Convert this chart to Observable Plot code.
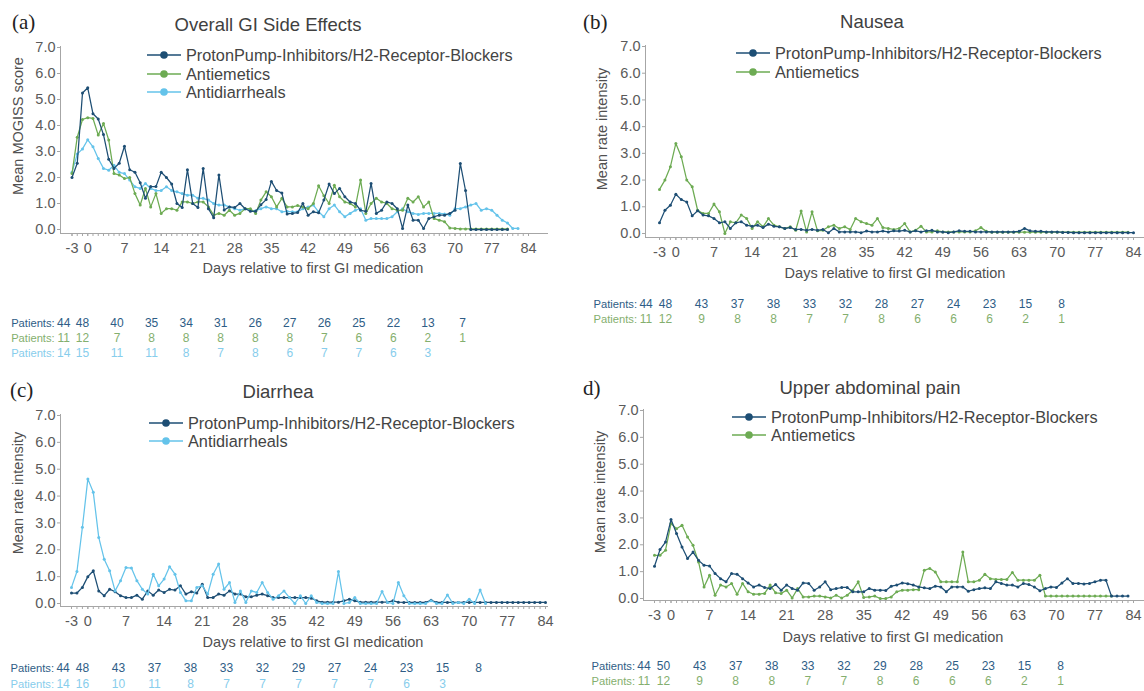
<!DOCTYPE html>
<html><head><meta charset="utf-8">
<script src="https://cdn.jsdelivr.net/npm/d3@7"></script>
<script src="https://cdn.jsdelivr.net/npm/@observablehq/plot@0.6"></script>
<style>
body{margin:0;background:#fff;font-family:"Liberation Sans",Arial,sans-serif;}
#root{position:relative;width:1144px;height:691px;overflow:hidden;background:#fff;}
.abs{position:absolute;white-space:nowrap;line-height:1;}
.plt{position:absolute;}
.plt svg{overflow:visible;}
</style></head><body><div id="root"></div>
<script>
// ---------------- DATA ----------------
const FIRST_DAY = -3;
const xTickLabels = [-3, 0, 7, 14, 21, 28, 35, 42, 49, 56, 63, 70, 77, 84];
const yTickValues = [0, 1, 2, 3, 4, 5, 6, 7];
const seriesNames = ["ProtonPump-Inhibitors/H2-Receptor-Blockers", "Antiemetics", "Antidiarrheals"];
const panelTitles = ["Overall GI Side Effects", "Nausea", "Diarrhea", "Upper abdominal pain"];
const panelLetters = ["(a)", "(b)", "(c)", "d)"];
const yTitles = ["Mean MOGISS score", "Mean rate intensity", "Mean rate intensity", "Mean rate intensity"];
const xTitle = "Days relative to first GI medication";
const patientDays = [-3, 0, 7, 14, 21, 28, 35, 42, 49, 56, 63, 70, 77];

// (a) Overall GI side effects, daily values from day -3
const aPPI = [2.0,2.55,5.25,5.45,4.45,4.25,3.65,2.7,2.35,2.55,3.2,2.3,2.2,1.8,1.2,1.65,1.65,2.2,2.0,1.75,1.0,0.85,2.3,1.0,0.85,2.35,0.8,0.45,2.1,0.75,0.87,0.85,1.0,0.8,0.7,0.7,0.95,1.15,1.85,1.5,1.4,0.6,0.62,0.65,1.0,0.55,0.68,0.64,1.13,1.75,1.38,1.58,1.26,1.06,1.0,0.74,0.7,1.77,0.62,0.74,1.06,1.0,0.8,0.04,0.94,0.36,0.36,0.04,0.42,0.49,0.55,0.55,0.62,0.74,2.54,1.5,0.0,0,0,0,0,0,0,0];
const aAE = [2.15,3.55,4.23,4.3,4.27,3.63,4.08,3.44,2.15,2.1,1.96,2.0,1.38,0.94,1.58,0.87,1.38,0.62,0.8,0.8,0.74,1.06,1.06,1.0,1.06,1.06,0.87,0.55,0.62,0.55,0.74,0.55,0.62,0.8,0.8,0.62,1.13,1.45,1.26,0.87,1.2,0.87,0.87,0.92,0.87,0.8,1.0,1.68,1.3,1.0,1.7,1.26,1.06,1.0,0.87,1.9,0.62,1.0,1.2,1.06,1.0,0.8,0.74,0.74,1.2,1.06,1.26,0.87,1.06,0.42,0.36,0.3,0.06,0.04,0.02,0.02,0.02,0.02,0.02,0.02,0.02,0.02,0.02,0.02];
const aAD = [2.2,2.9,3.1,3.45,3.18,2.73,2.35,2.28,2.47,2.2,2.15,1.9,1.64,1.58,1.77,1.58,1.5,1.5,1.64,1.5,1.45,1.38,1.32,1.32,1.2,1.2,1.13,1.0,0.94,0.94,0.87,0.8,0.74,0.8,0.74,0.72,0.8,0.87,0.8,0.8,0.68,0.7,0.68,0.68,0.8,0.87,0.94,0.68,0.49,0.8,0.94,0.68,0.49,0.62,0.74,0.8,0.36,0.42,0.42,0.42,0.42,0.49,0.68,0.8,0.68,0.62,0.58,0.62,0.62,0.62,0.62,0.6,0.55,0.8,0.8,0.87,0.94,1.0,0.74,0.8,0.74,0.55,0.36,0.25,0.04,0.04];
const aPatientsPPI = [44,48,40,35,34,31,26,27,26,25,22,13,7];
const aPatientsAE = [11,12,7,8,8,8,8,8,7,6,6,2,1];
const aPatientsAD = [14,15,11,11,8,7,8,6,7,7,6,3,null];

// (b) Nausea
const bPPI = [0.4,0.87,1.06,1.47,1.27,1.18,0.66,0.85,0.69,0.66,0.56,0.4,0.44,0.19,0.4,0.44,0.31,0.27,0.31,0.22,0.35,0.27,0.25,0.19,0.22,0.15,0.15,0.12,0.15,0.12,0.15,0.03,0.19,0.06,0.06,0.06,0.06,0.03,0.09,0.06,0.06,0.09,0.06,0.1,0.09,0.12,0.06,0.1,0.06,0.1,0.12,0.06,0.06,0.03,0.06,0.1,0.08,0.08,0.06,0.06,0.06,0.06,0.06,0.06,0.06,0.06,0.08,0.19,0.1,0.08,0.08,0.06,0.06,0.06,0.04,0.04,0.03,0.03,0.03,0.03,0.03,0.03,0.03,0.03,0.03,0.03,0.03,0.03];
const bAE = [1.65,2.0,2.5,3.37,2.87,2.0,1.75,0.87,0.75,0.75,1.1,0.81,0.0,0.44,0.4,0.69,0.56,0.19,0.44,0.25,0.56,0.31,0.25,0.19,0.25,0.12,0.84,0.06,0.81,0.1,0.12,0.25,0.31,0.19,0.25,0.15,0.56,0.44,0.37,0.31,0.56,0.22,0.19,0.15,0.19,0.37,0.06,0.12,0.27,0.06,0.06,0.1,0.06,0.06,0.06,0.06,0.06,0.06,0.1,0.22,0.08,0.05,0.05,0.05,0.05,0.05,0.05,0.05,0.05,0.05,0.05,0.05,0.05,0.05,0.05,0.05,0.05,0.05,0.05,0.05,0.05,0.05,0.05,0.05,0.05,0.05,0.05];
const bPatientsPPI = [44,48,43,37,38,33,32,28,27,24,23,15,8];
const bPatientsAE = [11,12,9,8,8,7,7,8,6,6,6,2,1];

// (c) Diarrhea
const cPPI = [0.39,0.39,0.6,1.0,1.22,0.47,0.29,0.53,0.44,0.29,0.22,0.22,0.31,0.16,0.47,0.31,0.5,0.41,0.53,0.5,0.66,0.35,0.44,0.39,0.72,0.22,0.22,0.35,0.31,0.47,0.35,0.35,0.25,0.25,0.31,0.35,0.29,0.22,0.22,0.22,0.22,0.22,0.22,0.22,0.2,0.1,0.05,0.05,0.05,0.05,0.1,0.16,0.1,0.05,0.05,0.05,0.05,0.05,0.05,0.1,0.05,0.04,0.04,0.04,0.04,0.04,0.12,0.04,0.04,0.04,0.04,0.04,0.04,0.04,0.04,0.04,0.04,0.04,0.04,0.04,0.04,0.04,0.04,0.04,0.04,0.04,0.04,0.04];
const cAD = [0.6,1.19,2.84,4.64,4.14,2.46,1.65,1.22,0.47,0.85,1.34,1.32,0.85,0.53,0.35,1.09,0.66,0.91,1.37,1.09,0.41,0.1,0.1,0.6,0.66,0.35,1.09,1.47,0.53,0.78,0.04,0.47,0.04,0.47,0.41,0.78,0.41,0.16,0.29,0.47,0.22,0.0,0.29,0.0,0.29,0.04,0.0,0.0,0.0,1.19,0.0,0.04,0.22,0.0,0.0,0.0,0.0,0.45,0.04,0.0,0.78,0.29,0.0,0.0,0.0,0.0,0.1,0.0,0.0,0.32,0.0,0.04,0.0,0.16,0.0,0.5,0.0];
const cPatientsPPI = [44,48,43,37,38,33,32,29,27,24,23,15,8];
const cPatientsAD = [14,16,10,11,8,7,7,7,7,7,6,3,null];

// (d) Upper abdominal pain
const dPPI = [1.2,1.82,2.1,2.94,2.42,1.92,1.49,1.73,1.42,1.24,1.21,0.93,0.74,0.62,0.93,0.9,0.74,0.58,0.43,0.5,0.41,0.37,0.52,0.31,0.5,0.37,0.31,0.58,0.56,0.31,0.43,0.62,0.33,0.37,0.41,0.41,0.25,0.25,0.25,0.37,0.31,0.31,0.3,0.46,0.5,0.58,0.55,0.5,0.43,0.4,0.37,0.46,0.43,0.25,0.43,0.43,0.43,0.27,0.33,0.37,0.4,0.37,0.62,0.56,0.5,0.5,0.43,0.56,0.52,0.43,0.29,0.37,0.43,0.41,0.58,0.74,0.56,0.56,0.54,0.56,0.62,0.68,0.68,0.09,0.09,0.09,0.09];
const dAE = [1.61,1.61,1.8,2.79,2.6,2.73,2.29,1.98,1.36,0.43,0.87,0.12,0.5,0.43,0.56,0.16,0.56,0.25,0.16,0.16,0.19,0.5,0.21,0.19,0.31,0.02,0.37,0.06,0.06,0.09,0.09,0.06,0.02,0.12,0.02,0.12,0.31,0.62,0.04,0.06,0.09,0.0,0.0,0.06,0.25,0.31,0.31,0.33,0.33,1.05,1.12,0.99,0.62,0.62,0.62,0.62,1.73,0.62,0.62,0.68,0.9,0.74,0.71,0.71,0.71,0.97,0.68,0.68,0.68,0.68,0.87,0.09,0.09,0.09,0.09,0.09,0.09,0.09,0.09,0.09,0.09,0.09,0.09,0.09];
const dPatientsPPI = [44,50,43,37,38,33,32,29,28,25,23,15,8];
const dPatientsAE = [11,12,9,8,8,7,7,8,6,6,6,2,1];

// ---------------- STYLE ----------------
const COL = {ppi: "#1d4e74", ae: "#6dab53", ad: "#64c3ea"};
const PCOL = {ppi: "#2e5d86", ae: "#84af6e", ad: "#87cdec"};
const FONT = '"Liberation Sans", Arial, sans-serif';
const root = document.getElementById("root");

function toRows(arr) {
  return arr.map((v, i) => ({day: FIRST_DAY + i, v})).filter(d => d.v != null);
}
function addText(txt, x, y, css) {
  const el = document.createElement("div");
  el.className = "abs";
  el.textContent = txt;
  el.style.left = x + "px"; el.style.top = y + "px";
  Object.assign(el.style, css || {});
  root.appendChild(el);
  return el;
}
function addLegend(x, y, rowGap, items) {
  items.forEach((it, i) => {
    const cy = y + i * rowGap;
    const svg = document.createElementNS("http://www.w3.org/2000/svg", "svg");
    svg.setAttribute("width", 34); svg.setAttribute("height", 10);
    svg.style.position = "absolute"; svg.style.left = x + "px"; svg.style.top = (cy - 5) + "px";
    svg.innerHTML = `<line x1="0" x2="34" y1="5" y2="5" stroke="${COL[it.key]}" stroke-width="1.3"/><circle cx="17" cy="5" r="3.8" fill="${COL[it.key]}"/>`;
    root.appendChild(svg);
    addText(it.label, x + 39, cy, {transform: "translateY(-50%)", fontSize: "16.3px", color: "#444"});
  });
}

const panels = [
  {left: 0, top: 0, w: 560, fl: 60, fr: 547, ft: 46, fb: 233, x0: 71.5, x1: 528, y0: 229, y7: 47,
   series: [["ad", aAD], ["ae", aAE], ["ppi", aPPI]],
   legend: {x: 147, y: 55, gap: 18.5, keys: [["ppi",0],["ae",1],["ad",2]]},
   title: {cx: 268, cy: 25}, letter: {x: 12, cy: 22}, ytitle: {cx: 18, cy: 126}, xtitle: {cx: 313, cy: 268},
   pat: {top: 312, p0: 82, p77: 462, rows: [["ppi", aPatientsPPI], ["ae", aPatientsAE], ["ad", aPatientsAD]], gap: 15}},
  {left: 580, top: 0, w: 564, fl: 65, fr: 563, ft: 45, fb: 237, x0: 79, x1: 553, y0: 233, y7: 46,
   series: [["ae", bAE], ["ppi", bPPI]],
   legend: {x: 736, y: 53, gap: 18.5, keys: [["ppi",0],["ae",1]]},
   title: {cx: 872, cy: 22}, letter: {x: 583, cy: 22}, ytitle: {cx: 602, cy: 129}, xtitle: {cx: 895, cy: 273},
   pat: {top: 293, p0: 85, p77: 481, rows: [["ppi", bPatientsPPI], ["ae", bPatientsAE]], gap: 15}},
  {left: 0, top: 370, w: 560, fl: 60, fr: 547, ft: 44, fb: 236, x0: 71, x1: 545, y0: 233, y7: 45,
   series: [["ppi", cPPI], ["ad", cAD]],
   legend: {x: 149, y: 423, gap: 18, keys: [["ppi",0],["ad",2]]},
   title: {cx: 278, cy: 392}, letter: {x: 10, cy: 390}, ytitle: {cx: 18, cy: 493}, xtitle: {cx: 313, cy: 642},
   pat: {top: 657, p0: 82, p77: 478, rows: [["ppi", cPatientsPPI], ["ad", cPatientsAD]], gap: 16}},
  {left: 580, top: 370, w: 564, fl: 63, fr: 563, ft: 39, fb: 230, x0: 74, x1: 553, y0: 228, y7: 40,
   series: [["ae", dAE], ["ppi", dPPI]],
   legend: {x: 732, y: 417, gap: 18, keys: [["ppi",0],["ae",1]]},
   title: {cx: 870, cy: 388}, letter: {x: 583, cy: 388}, ytitle: {cx: 600, cy: 492}, xtitle: {cx: 893, cy: 637},
   pat: {top: 655, p0: 83, p77: 480, rows: [["ppi", dPatientsPPI], ["ae", dPatientsAE]], gap: 15}}
];

const allDays = d3.range(-3, 85);

panels.forEach((p, k) => {
  const H = p.fb + 28;
  const marks = [
    Plot.frame({anchor: "left", stroke: "#a6a6a6"}),
    Plot.frame({anchor: "bottom", stroke: "#a6a6a6"}),
    Plot.axisY({ticks: yTickValues, tickFormat: d3.format(".1f"), tickSize: 3, tickPadding: 2, fontSize: 14.5, label: null, stroke: "#a6a6a6", color: "#5a5a5a"}),
    Plot.axisX({ticks: allDays, tickSize: 3, tickFormat: () => "", label: null, stroke: "#a6a6a6"}),
    Plot.axisX({ticks: xTickLabels, tickSize: 3, tickPadding: 6, fontSize: 14.5, tickFormat: d => String(d), label: null, stroke: "#a6a6a6", color: "#5a5a5a"})
  ];
  p.series.forEach(([key, arr]) => {
    const rows = toRows(arr);
    marks.push(Plot.line(rows, {x: "day", y: "v", stroke: COL[key], strokeWidth: 1.25}));
    marks.push(Plot.dot(rows, {x: "day", y: "v", r: 1.5, fill: COL[key], stroke: "none"}));
  });
  const chart = Plot.plot({
    width: p.w, height: H,
    marginLeft: p.fl, marginRight: p.w - p.fr, marginTop: p.ft, marginBottom: H - p.fb,
    x: {domain: [-3, 84], range: [p.x0, p.x1]},
    y: {domain: [0, 7], range: [p.y0, p.y7]},
    style: {fontFamily: FONT, background: "transparent", color: "#5a5a5a", overflow: "visible"},
    marks
  });
  const wrap = document.createElement("div");
  wrap.className = "plt"; wrap.style.left = p.left + "px"; wrap.style.top = p.top + "px";
  wrap.appendChild(chart); root.appendChild(wrap);

  // titles and labels
  addText(panelTitles[k], p.title.cx, p.title.cy, {transform: "translate(-50%,-50%)", fontSize: "18.5px", color: "#404040"});
  addText(panelLetters[k], p.letter.x, p.letter.cy, {transform: "translateY(-50%)", fontSize: "21px", color: "#222", fontFamily: '"Liberation Serif", "Times New Roman", serif'});
  addText(yTitles[k], p.ytitle.cx, p.ytitle.cy, {transform: "translate(-50%,-50%) rotate(-90deg)", fontSize: "14.5px", color: "#505050"});
  addText(xTitle, p.xtitle.cx, p.xtitle.cy, {transform: "translate(-50%,-50%)", fontSize: "14.5px", color: "#505050"});
  addLegend(p.legend.x, p.legend.y, p.legend.gap, p.legend.keys.map(([key, idx]) => ({key, label: seriesNames[idx]})));

  // patients rows
  const nRows = p.pat.rows.length;
  const ph = p.pat.gap * nRows + 6;
  const rowIds = p.pat.rows.map(r => r[0]);
  const pmarks = [];
  p.pat.rows.forEach(([key, counts]) => {
    const data = patientDays.map((d, i) => ({day: d, n: counts[i], row: key})).filter(d => d.n != null);
    const first = data.filter(d => d.day < 0);
    const rest = data.filter(d => d.day >= 0);
    pmarks.push(Plot.text(rest, {x: "day", y: "row", text: d => String(d.n), fill: PCOL[key], fontSize: 12}));
    pmarks.push(Plot.text(first, {x: "day", y: "row", text: d => String(d.n), fill: PCOL[key], fontSize: 12, dx: -4}));
    pmarks.push(Plot.text(first, {x: "day", y: "row", text: () => "Patients:", fill: PCOL[key], fontSize: 11.2, textAnchor: "end", dx: -13}));
  });
  const pplot = Plot.plot({
    width: p.w, height: ph, margin: 0,
    x: {domain: [0, 77], range: [p.pat.p0, p.pat.p77], axis: null},
    y: {type: "point", padding: 0, domain: rowIds, range: [p.pat.gap / 2 + 3, p.pat.gap / 2 + 3 + p.pat.gap * (nRows - 1)], axis: null},
    style: {fontFamily: FONT, background: "transparent", overflow: "visible"},
    marks: pmarks
  });
  const pw = document.createElement("div");
  pw.className = "plt"; pw.style.left = p.left + "px"; pw.style.top = p.pat.top + "px";
  pw.appendChild(pplot); root.appendChild(pw);
});
</script></body></html>
